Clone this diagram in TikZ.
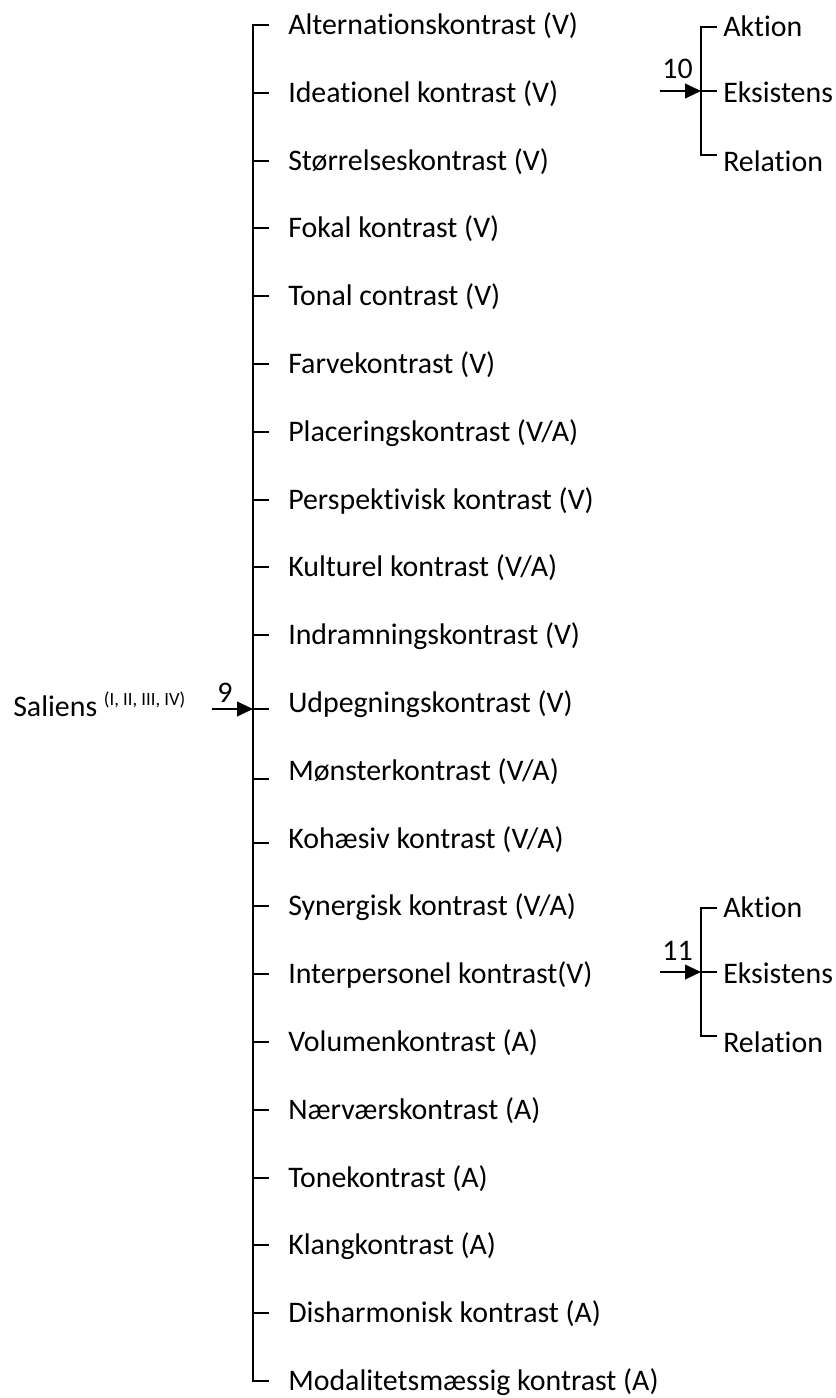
\documentclass[tikz,border=0pt]{standalone}
\usepackage{fontspec}
\setmainfont{Carlito}[Ligatures={NoCommon}]
\usetikzlibrary{arrows.meta}
\begin{document}
\begin{tikzpicture}[x=0.75pt,y=-0.75pt,
  lbl/.style={anchor=base west,inner sep=0pt,font=\fontsize{22.4}{26}\selectfont},
  num/.style={anchor=base,inner sep=0pt,font=\fontsize{22.4}{26}\selectfont},
  tree/.style={line width=1.5pt},
  arr/.style={line width=1.5pt,-{Triangle[length=12pt,width=11pt]}}]
\useasboundingbox (0,0) rectangle (835,1398);
% main list
\foreach \t [count=\i] in {Alternationskontrast (V),Ideationel kontrast (V),Størrelseskontrast (V),Fokal kontrast (V),Tonal contrast (V),Farvekontrast (V),Placeringskontrast (V/A),Perspektivisk kontrast (V),Kulturel kontrast (V/A),Indramningskontrast (V),Udpegningskontrast (V),Mønsterkontrast (V/A),Kohæsiv kontrast (V/A),Synergisk kontrast (V/A),Interpersonel kontrast(V),Volumenkontrast (A),Nærværskontrast (A),Tonekontrast (A),Klangkontrast (A),Disharmonisk kontrast (A),Modalitetsmæssig kontrast (A)}{
  \pgfmathsetmacro{\yc}{25+67.8*(\i-1)}
  \pgfmathsetmacro{\dd}{(\i==11)*6+(\i==12)*8+(\i==13)*4}
  \node[lbl] (m\i) at (288,\yc+9.5) {\t};
  \coordinate (t\i) at (253,\yc+\dd);
  \coordinate (e\i) at (269,\yc+\dd);
}
\draw[tree] (e1) -- (t1) -- (t21) -- (e21);
\foreach \i in {2,...,20}{\draw[tree] (t\i) -- (e\i);}
% Saliens input
\node[anchor=base west,inner sep=0pt,font=\fontsize{22.4}{26}\selectfont] (sal) at (13,716)
  {Saliens\hspace{5pt}\raisebox{8pt}{\fontsize{14}{16}\selectfont (I, II, III, IV)}};
\coordinate (x212) at (212,0);
\coordinate (a9) at (x212 |- t11);
\draw[arr] (a9) -- (t11);
\node[num] (n9) at (225,702) {9};
% sub trees
\foreach \k/\yo/\lab in {1/0/10,2/881/11}{
  \coordinate (sa\k) at (701,27+\yo);
  \coordinate (sb\k) at (701,91+\yo);
  \coordinate (sc\k) at (701,155+\yo);
  \coordinate (ea\k) at (717,27+\yo);
  \coordinate (eb\k) at (717,91+\yo);
  \coordinate (ec\k) at (717,155+\yo);
  \node[lbl] (ak\k) at (723,27+9.5+\yo) {Aktion};
  \node[lbl] (ek\k) at (723,93+9.5+\yo) {Eksistens};
  \node[lbl] (re\k) at (723,162+9.5+\yo) {Relation};
  \draw[tree] (ea\k) -- (sa\k) -- (sc\k) -- (ec\k);
  \draw[tree] (sb\k) -- (eb\k);
  \coordinate (in\k) at (660,91+\yo);
  \draw[arr] (in\k) -- (sb\k);
  \node[num] (nl\k) at (677.5,79+\yo) {\lab};
}
\end{tikzpicture}
\end{document}
